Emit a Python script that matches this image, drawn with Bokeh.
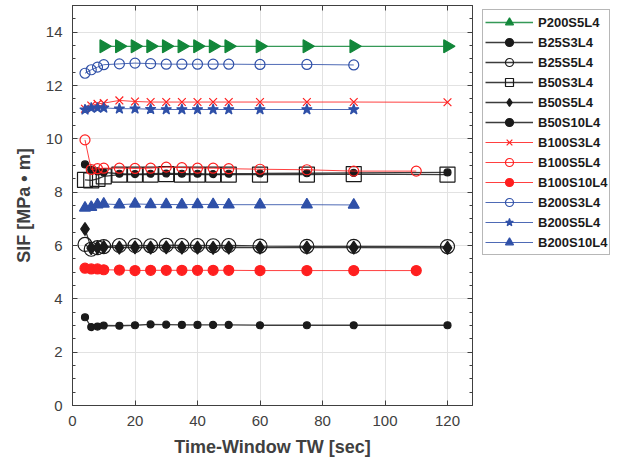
import math
from bokeh.plotting import figure
from bokeh.layouts import row
from bokeh.models import (Range1d, LinearAxis, Legend, LegendItem, SingleIntervalTicker,
                          CustomJSTickFormatter)
from bokeh.embed import file_html
from bokeh.resources import INLINE

# ---- data ----
tw_p200 = [10, 15, 20, 25, 30, 35, 40, 45, 50, 60, 75, 90, 120]
tw_120 = [4, 6, 8, 10, 15, 20, 25, 30, 35, 40, 45, 50, 60, 75, 90, 120]
tw_110 = [4, 6, 8, 10, 15, 20, 25, 30, 35, 40, 45, 50, 60, 75, 90, 110]
tw_90 = [4, 6, 8, 10, 15, 20, 25, 30, 35, 40, 45, 50, 60, 75, 90]

P200S5L4 = [13.47, 13.47, 13.47, 13.47, 13.47, 13.47, 13.47, 13.47, 13.47, 13.47, 13.47, 13.47, 13.47]
B25S3L4 = [3.31, 2.94, 2.96, 3.00, 2.99, 3.01, 3.04, 3.03, 3.02, 3.02, 3.02, 3.02, 3.01, 3.01, 3.01, 3.01]
B25S5L4 = [6.04, 5.86, 5.92, 5.96, 6.00, 6.00, 5.99, 6.01, 6.00, 6.00, 5.99, 6.00, 5.98, 5.97, 5.97, 5.96]
B50S3L4 = [8.46, 8.44, 8.50, 8.59, 8.66, 8.66, 8.66, 8.68, 8.66, 8.66, 8.66, 8.66, 8.66, 8.66, 8.68, 8.66]
B50S5L4 = [6.62, 5.90, 5.92, 5.94, 5.92, 5.93, 5.92, 5.93, 5.92, 5.92, 5.91, 5.92, 5.92, 5.92, 5.92, 5.91]
B50S10L4 = [9.04, 8.85, 8.78, 8.74, 8.69, 8.68, 8.69, 8.70, 8.69, 8.69, 8.68, 8.69, 8.70, 8.71, 8.72, 8.74]
B100S3L4 = [11.13, 11.25, 11.31, 11.34, 11.44, 11.40, 11.38, 11.38, 11.38, 11.38, 11.38, 11.38, 11.38, 11.38, 11.38, 11.37]
B100S5L4 = [9.96, 8.85, 8.88, 8.90, 8.90, 8.89, 8.90, 8.94, 8.92, 8.90, 8.90, 8.88, 8.86, 8.84, 8.79, 8.79]
B100S10L4 = [5.15, 5.12, 5.12, 5.09, 5.08, 5.06, 5.07, 5.07, 5.07, 5.07, 5.07, 5.07, 5.06, 5.06, 5.06, 5.06]
B200S3L4 = [12.46, 12.59, 12.69, 12.78, 12.81, 12.84, 12.82, 12.80, 12.80, 12.80, 12.80, 12.80, 12.79, 12.79, 12.77]
B200S5L4 = [11.09, 11.16, 11.16, 11.16, 11.13, 11.13, 11.11, 11.10, 11.10, 11.10, 11.10, 11.10, 11.10, 11.10, 11.10]
B200S10L4 = [7.41, 7.44, 7.53, 7.56, 7.53, 7.56, 7.54, 7.54, 7.53, 7.54, 7.54, 7.53, 7.53, 7.53, 7.52]

GREEN = "#12873a"
BLACK = "#1a1a1a"
RED = "#ff1f1f"
BLUE = "#2f50a8"

# (label, x, y, color, marker, size, filled, angle)
series = [
    ("P200S5L4", tw_p200, P200S5L4, GREEN, "triangle", 13, True, -math.pi / 2),
    ("B25S3L4", tw_120, B25S3L4, BLACK, "circle", 7, True, 0),
    ("B25S5L4", tw_120, B25S5L4, BLACK, "circle", 14, False, 0),
    ("B50S3L4", tw_120, B50S3L4, BLACK, "square", 15, False, 0),
    ("B50S5L4", tw_120, B50S5L4, BLACK, "diamond", 13, True, 0),
    ("B50S10L4", tw_120, B50S10L4, BLACK, "circle", 7, True, 0),
    ("B100S3L4", tw_120, B100S3L4, RED, "x", 11, False, 0),
    ("B100S5L4", tw_110, B100S5L4, RED, "circle", 10, False, 0),
    ("B100S10L4", tw_110, B100S10L4, RED, "circle", 10, True, 0),
    ("B200S3L4", tw_90, B200S3L4, BLUE, "circle", 10, False, 0),
    ("B200S5L4", tw_90, B200S5L4, BLUE, "star", 11, True, 0),
    ("B200S10L4", tw_90, B200S10L4, BLUE, "triangle", 11, True, 0),
]

FONT = "Liberation Sans"
AX = "#404040"

p = figure(frame_width=400, frame_height=400, output_backend="svg", toolbar_location=None,
           x_range=Range1d(0, 128), y_range=Range1d(0, 15),
           min_border_left=72, min_border_top=5, min_border_bottom=0, min_border_right=6)
p.background_fill_color = "white"
p.border_fill_color = "white"
p.outline_line_color = AX

xt = SingleIntervalTicker(interval=20, num_minor_ticks=0)
yt = SingleIntervalTicker(interval=2, num_minor_ticks=4)
p.xaxis.ticker = xt
p.yaxis.ticker = yt
p.xgrid.ticker = xt
p.ygrid.ticker = yt
p.xgrid.grid_line_color = "#e2e2e2"
p.ygrid.grid_line_color = "#e2e2e2"

for ax in (p.xaxis[0], p.yaxis[0]):
    ax.axis_line_color = AX
    ax.major_tick_line_color = AX
    ax.minor_tick_line_color = AX
    ax.major_tick_in = 5
    ax.major_tick_out = 0
    ax.minor_tick_in = 3
    ax.minor_tick_out = 0
    ax.major_label_text_font = FONT
    ax.major_label_text_font_size = "15px"
    ax.major_label_text_color = AX
    ax.axis_label_text_font = FONT
    ax.axis_label_text_font_size = "18px"
    ax.axis_label_text_font_style = "bold"
    ax.axis_label_text_color = AX
    ax.major_label_standoff = 10

p.xaxis.axis_label = "Time-Window TW [sec]"
p.yaxis.axis_label = "SIF [MPa \u2022 m]"
p.xaxis.axis_label_standoff = 8
p.yaxis.axis_label_standoff = 9

for loc, tk in (("right", yt), ("above", xt)):
    a = LinearAxis(ticker=tk, formatter=CustomJSTickFormatter(code="return ''"),
                   major_label_standoff=0, axis_label_standoff=0,
                   axis_line_color=AX, major_tick_line_color=AX, minor_tick_line_color=AX,
                   major_tick_in=5, major_tick_out=0, minor_tick_in=3, minor_tick_out=0)
    p.add_layout(a, loc)

# separate panel that only holds the legend (its own renderers sit outside its view)
pl = figure(width=136, height=420, output_backend="svg", toolbar_location=None,
            x_range=Range1d(1000, 1001), y_range=Range1d(1000, 1001),
            x_axis_location=None, y_axis_location=None, min_border=0)
pl.grid.visible = False
pl.outline_line_color = None
pl.background_fill_color = "white"
pl.border_fill_color = "white"

items = []
for label, xs, ys, col, mk, sz, filled, ang in series:
    lw = 1.0 if col in (RED, BLUE) else 1.3
    ln = p.line(xs, ys, line_color=col, line_width=lw, line_alpha=0.85)
    sc = p.scatter(xs, ys, marker=mk, size=sz, angle=ang, line_color=col, line_width=1.2,
                   fill_color=col if filled else None, fill_alpha=1.0)
    ln2 = pl.line(xs, ys, line_color=col, line_width=lw, line_alpha=0.85)
    sc2 = pl.scatter(xs, ys, marker=mk, size=sz, angle=ang, line_color=col, line_width=1.2,
                     fill_color=col if filled else None, fill_alpha=1.0)
    items.append(LegendItem(label=label, renderers=[ln2, sc2]))

legend = Legend(items=items, location="top_left", orientation="vertical",
                glyph_width=48, glyph_height=20, label_height=20, spacing=0,
                label_standoff=5, padding=2, margin=4,
                label_text_font=FONT, label_text_font_size="13px",
                label_text_font_style="bold", label_text_color="#1a1a1a",
                border_line_color="#707070", background_fill_color="white")
pl.add_layout(legend, "center")

layout = row(p, pl)
open("out.html", "w").write(file_html(layout, INLINE))
